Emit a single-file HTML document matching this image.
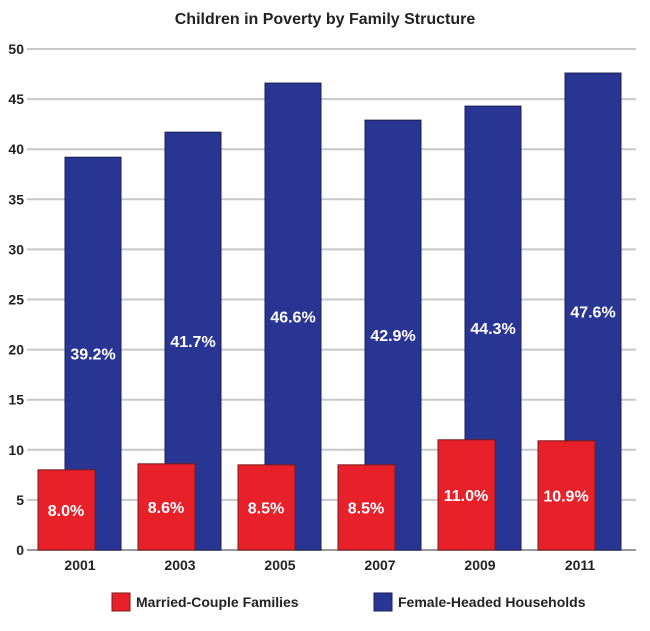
<!DOCTYPE html>
<html><head><meta charset="utf-8"><style>
body{margin:0;background:#fff;}
svg text{font-family:"Liberation Sans",sans-serif;font-weight:bold;}
</style></head><body>
<svg width="650" height="626">
<text x="325" y="24" text-anchor="middle" font-size="16" fill="#222">Children in Poverty by Family Structure</text>
<g id="grid"></g><g id="bars"></g><g id="labels"></g>
<g>
<rect x="112" y="593" width="18" height="18" fill="#e8202a" stroke="#7a1a1a"/>
<text x="136" y="607" font-size="14" fill="#222">Married-Couple Families</text>
<rect x="374" y="593" width="18" height="18" fill="#283593" stroke="#1a1f55"/>
<text x="398" y="607" font-size="14" fill="#222">Female-Headed Households</text>
</g>
</svg>
<script>
const years=["2001","2003","2005","2007","2009","2011"];
const married=[8.0,8.6,8.5,8.5,11.0,10.9];
const female=[39.2,41.7,46.6,42.9,44.3,47.6];
const yTicks=[0,5,10,15,20,25,30,35,40,45,50];
const NS="http://www.w3.org/2000/svg";
const y=v=>550-v*10.02;
const gx=i=>38+i*100;
function mk(tag,attrs,parent,txt){const e=document.createElementNS(NS,tag);for(const k in attrs)e.setAttribute(k,attrs[k]);if(txt!==undefined)e.textContent=txt;document.getElementById(parent).appendChild(e);return e;}
yTicks.forEach(t=>{
 const l=mk('line',{x1:27,x2:636,y1:y(t),y2:y(t),stroke:t===0?'#999':'#c8c8c8','stroke-width':2},'grid');
 
 
 const tx=mk('text',{x:24,y:y(t)+5,'text-anchor':'end','font-size':14,fill:'#222'},'grid',String(t));
 
 
});
years.forEach((yr,i)=>{
 const x=gx(i);
 const b=mk('rect',{x:x+27,y:y(female[i]),width:56,height:550-y(female[i]),fill:'#283593',stroke:'#1a1f55'},'bars');
 
 
 const r=mk('rect',{x:x,y:y(married[i]),width:57,height:550-y(married[i]),fill:'#e8202a',stroke:'#7a1a1a'},'bars');
 
 
 const lf=mk('text',{x:x+55,y:y(female[i]/2)+6,'text-anchor':'middle','font-size':16,fill:'#fff'},'labels',female[i].toFixed(1)+'%');
 
 
 const lm=mk('text',{x:x+28,y:y(married[i]/2)+6,'text-anchor':'middle','font-size':16,fill:'#fff'},'labels',married[i].toFixed(1)+'%');
 
 
 const xl=mk('text',{x:x+42,y:570,'text-anchor':'middle','font-size':14,fill:'#222'},'labels',yr);
 
 
});
</script>
</body></html>
